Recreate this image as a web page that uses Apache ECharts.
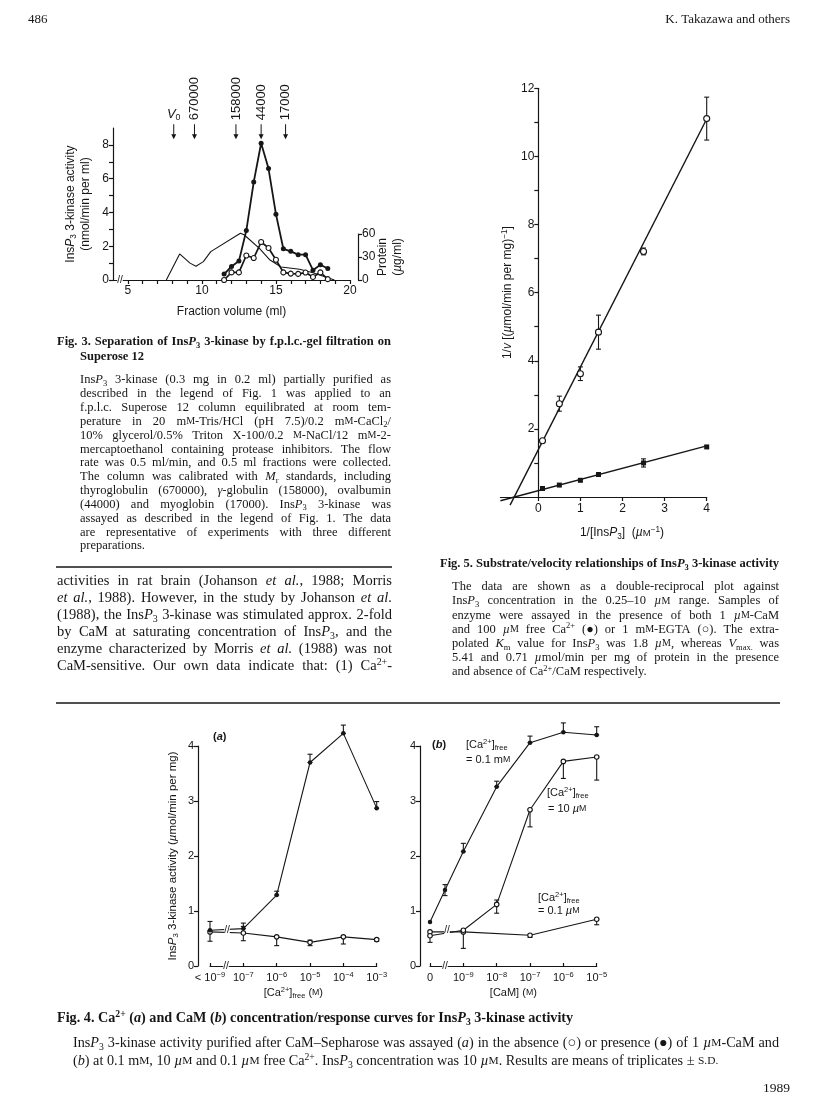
<!DOCTYPE html>
<html><head><meta charset="utf-8">
<script src="https://cdn.jsdelivr.net/npm/echarts@6/dist/echarts.min.js"></script>
<style>html,body{margin:0;padding:0;background:#fff}#c{width:816px;height:1103px}</style>
</head><body><div id="c"></div>
<script>
// ================= DATA =================
// Fig. 3 : gel filtration profile
const fig3Fraction = [11.5,12,12.5,13,13.5,14,14.5,15,15.5,16,16.5,17,17.5,18,18.5];
const fig3Filled   = [0.35,0.8,1.12,2.93,5.8,8.1,6.6,3.9,1.85,1.7,1.5,1.5,0.58,0.9,0.68];
const fig3Open     = [0,0.45,0.45,1.45,1.3,2.25,1.9,1.2,0.45,0.38,0.36,0.44,0.18,0.45,0.05];
const fig3ProteinX = [7.6,8.5,9.2,9.6,10.1,10.6,12.6,12.85,13.9,14.6,15.35,16.6,17.5,18.4,18.95];
const fig3Protein  = [0,34,22,18,24,37,61,59,41,26,17,14,9.5,3.5,0];
const fig3MarkerX  = [8.1,9.5,12.3,14.0,15.65];
const fig3MarkerLabels = ['V0','670000','158000','44000','17000'];
const fig3XTicks = [5,10,15,20];
const fig3YTicks = [0,2,4,6,8];
const fig3ProteinTicks = [0,30,60];

// Fig. 5 : double reciprocal plot
const fig5X          = [0.1,0.5,1.0,1.43,2.5,4.0];
const fig5Open       = [1.65,2.74,3.62,4.84,7.21,11.11];
const fig5OpenErr    = [0,0.22,0.2,0.5,0.1,0.63];
const fig5Filled     = [0.25,0.35,0.49,0.66,1.0,1.47];
const fig5FilledErr  = [0,0,0,0,0.12,0];
const fig5FitOpen    = [[-0.67,-0.24],[4.0,11.1]];
const fig5FitFilled  = [[-0.9,-0.11],[4.0,1.5]];
const fig5XTicks = [0,1,2,3,4];
const fig5YTicks = [2,4,6,8,10,12];

// Fig. 4(a) : Ca2+ dependence
const fig4aX          = [-8,-7,-6,-5,-4,-3];
const fig4aXTickLabels = ['< 10^−9^','10^−7^','10^−6^','10^−5^','10^−4^','10^−3^'];
const fig4aFilled     = [0.65,0.68,1.29,3.70,4.23,2.87];
const fig4aFilledErr  = [[-7,0.68,0.78],[-6,1.29,1.36],[-5,3.70,3.85],[-4,4.23,4.38],[-3,2.87,2.99]];
const fig4aOpen       = [0.62,0.60,0.53,0.43,0.53,0.48];
const fig4aOpenErr    = [[-8,0.45,0.81],[-7,0.46,0.72],[-6,0.37,0.53],[-5,0.37,0.47],[-4,0.40,0.55],[-3,0.45,0.50]];

// Fig. 4(b) : CaM dependence
const fig4bXTicks      = [-10,-9,-8,-7,-6,-5];
const fig4bXTickLabels = ['0','10^−9^','10^−8^','10^−7^','10^−6^','10^−5^'];
const fig4bMmX    = [-10,-9.55,-9,-8,-7,-6,-5];
const fig4bMm     = [0.8,1.38,2.08,3.26,4.06,4.25,4.2];
const fig4bMmErr  = [[-9.55,1.28,1.48],[-9,2.08,2.23],[-8,3.26,3.36],[-7,4.06,4.18],[-6,4.25,4.42],[-5,4.2,4.35]];
const fig4b10X    = [-10,-9,-8,-7,-6,-5];
const fig4b10     = [0.55,0.65,1.12,2.84,3.72,3.8];
const fig4b10Err  = [[-10,0.43,0.55],[-9,0.32,0.65],[-8,0.96,1.2],[-7,2.53,2.84],[-6,3.41,3.72],[-5,3.38,3.8]];
const fig4b01X    = [-10,-9,-7,-5];
const fig4b01     = [0.62,0.62,0.56,0.85];
const fig4b01Err  = [[-7,0.52,0.56],[-5,0.75,0.85]];
const fig4YTicks  = [0,1,2,3,4];

// ================= TEXT =================
const fig3Title = ['Fig. 3. Separation of Ins_P_~3~ 3-kinase by f.p.l.c.-gel filtration on'];
const fig3Title2 = ['Superose 12'];
const fig3Legend = [
 'Ins_P_~3~ 3-kinase (0.3 mg in 0.2 ml) partially purified as',
 'described in the legend of Fig. 1 was applied to an',
 'f.p.l.c. Superose 12 column equilibrated at room tem-',
 'perature in 20 m`M`-Tris/HCl (pH 7.5)/0.2 m`M`-CaCl~2~/',
 '10% glycerol/0.5% Triton X-100/0.2 `M`-NaCl/12 m`M`-2-',
 'mercaptoethanol containing protease inhibitors. The flow',
 'rate was 0.5 ml/min, and 0.5 ml fractions were collected.',
 'The column was calibrated with _M_~r~ standards, including',
 'thyroglobulin (670000), _γ_-globulin (158000), ovalbumin',
 '(44000) and myoglobin (17000). Ins_P_~3~ 3-kinase was',
 'assayed as described in the legend of Fig. 1. The data',
 'are representative of experiments with three different',
 'preparations.'];
const bodyText = [
 'activities in rat brain (Johanson _et al._, 1988; Morris',
 '_et al._, 1988). However, in the study by Johanson _et al._',
 '(1988), the Ins_P_~3~ 3-kinase was stimulated approx. 2-fold',
 'by CaM at saturating concentration of Ins_P_~3~, and the',
 'enzyme characterized by Morris _et al._ (1988) was not',
 'CaM-sensitive. Our own data indicate that: (1) Ca^2+^-'];
const fig5Title = ['Fig. 5. Substrate/velocity relationships of Ins_P_~3~ 3-kinase activity'];
const fig5Legend = [
 'The data are shown as a double-reciprocal plot against',
 'Ins_P_~3~ concentration in the 0.25–10 _µ_`M` range. Samples of',
 'enzyme were assayed in the presence of both 1 _µ_`M`-CaM',
 'and 100 _µ_`M` free Ca^2+^ (●) or 1 m`M`-EGTA (○). The extra-',
 'polated _K_~m~ value for Ins_P_~3~ was 1.8 _µ_`M`, whereas _V_~max.~ was',
 '5.41 and 0.71 _µ_mol/min per mg of protein in the presence',
 'and absence of Ca^2+^/CaM respectively.'];
const fig4Title = ['Fig. 4. Ca^2+^ (_a_) and CaM (_b_) concentration/response curves for Ins_P_~3~ 3-kinase activity'];
const fig4Legend = [
 'Ins_P_~3~ 3-kinase activity purified after CaM–Sepharose was assayed (_a_) in the absence (○) or presence (●) of 1 _µ_`M`-CaM and',
 '(_b_) at 0.1 m`M`, 10 _µ_`M` and 0.1 _µ_`M` free Ca^2+^. Ins_P_~3~ concentration was 10 _µ_`M`. Results are means of triplicates ± `S.D.`'];

// ================= HELPERS =================
const SANS = '"Liberation Sans", Arial, Helvetica, sans-serif';
const SERIF = '"Liberation Serif", "Times New Roman", serif';
const INK = '#161616';

function parseMarkup(s) {
  const toks = []; let buf = ''; const st = {i:0,b:0,p:0,c:0};
  const key = () => ((st.i?'i':'')+(st.b?'b':'')+(st.p?'p':'')+(st.c?'c':'')) || 'n';
  const flush = () => { if (buf) { toks.push({k:key(), t:buf}); buf=''; } };
  for (const ch of s) {
    if (ch==='_') { flush(); st.i^=1; }
    else if (ch==='~') { flush(); st.b^=1; }
    else if (ch==='^') { flush(); st.p^=1; }
    else if (ch==='`') { flush(); st.c^=1; }
    else buf += ch;
  }
  flush(); return toks;
}
function mk(s) { return parseMarkup(s).map(t => '{'+t.k+'|'+t.t+'}').join(''); }
function tokSpec(k, size) {
  const sub = k.includes('b'), sup = k.includes('p'), sc = k.includes('c');
  const fs = (sub||sup) ? Math.round(size*0.68*10)/10 : (sc ? Math.round(size*0.8*10)/10 : size);
  return {fs, italic: k.includes('i'), sub, sup};
}
const KEYS = ['n','i','b','ib','p','ip','c','ic','bc','pc','ibc','ipc'];
function richStyles(size, family, weight, colorProp) {
  const r = {}; const L = Math.round(size*1.25);
  for (const k of KEYS) {
    const sp = tokSpec(k, size);
    const o = {fontSize: sp.fs, fontFamily: family, fontWeight: weight, fontStyle: sp.italic ? 'italic' : 'normal',
               textBorderWidth: 0};
    o[colorProp] = INK;
    if (sp.sub) { o.verticalAlign = 'bottom'; o.lineHeight = Math.round(sp.fs*1.3); }
    else if (sp.sup) { o.verticalAlign = 'top'; o.lineHeight = Math.round(sp.fs*1.05); }
    else { o.lineHeight = L; }
    r[k] = o;
  }
  return r;
}
const mctx = document.createElement('canvas').getContext('2d');
function tokWidth(tok, size, family, weight) {
  const sp = tokSpec(tok.k, size);
  mctx.font = (sp.italic?'italic ':'') + weight + ' ' + sp.fs + 'px ' + family;
  return mctx.measureText(tok.t).width;
}
// lays out a block of lines word by word (justified like the printed page)
function textBlock(b) {
  const els = [];
  const R = richStyles(b.size, b.family, b.weight, 'fill');
  mctx.font = b.weight + ' ' + b.size + 'px ' + b.family;
  const spaceW = mctx.measureText(' ').width;
  b.lines.forEach((line, li) => {
    const y = b.y0 + li*(b.dy||0);
    let words = [[]];
    parseMarkup(line).forEach(tok => {
      tok.t.split(' ').forEach((p, j) => { if (j>0) words.push([]); if (p) words[words.length-1].push({k:tok.k, t:p}); });
    });
    words = words.filter(w => w.length);
    const widths = words.map(w => w.reduce((a,t) => a + tokWidth(t, b.size, b.family, b.weight), 0));
    const total = widths.reduce((a,c) => a+c, 0);
    const doJ = b.justify && words.length > 1 && (li < b.lines.length-1 || b.justifyLast);
    let gap = doJ ? (b.x1 - b.x0 - total)/(words.length-1) : spaceW;
    if (gap < spaceW*0.55) gap = spaceW*0.55;
    let x = b.x0;
    words.forEach((w, wi) => {
      els.push({type:'text', x: x, y: y, silent: true, z: 10,
        style: {text: w.map(t => '{'+t.k+'|'+t.t+'}').join(''), rich: R,
                align:'left', textAlign:'left', verticalAlign:'middle', textVerticalAlign:'middle',
                fill: INK, fontSize: b.size, fontFamily: b.family, fontWeight: b.weight}});
      x += widths[wi] + gap;
    });
  });
  return els;
}
function label(x, y, s, size, family, weight, align) {
  return {type:'text', x, y, silent:true, z:10,
    style:{text: mk(s), rich: richStyles(size, family, weight, 'fill'), align: align||'left', textAlign: align||'left',
           verticalAlign:'middle', textVerticalAlign:'middle', fill: INK, fontSize: size, fontFamily: family}};
}
function hline(x1, x2, y, w) {
  return {type:'line', silent:true, shape:{x1, y1:y, x2, y2:y}, style:{stroke: INK, lineWidth: w||1.2}};
}
function breakMark(x, y) {
  return {type:'text', x, y, silent:true, z:20,
    style:{text:'//', fontSize:10, fontFamily:SANS, fill:INK, align:'center', textAlign:'center',
           verticalAlign:'middle', textVerticalAlign:'middle', backgroundColor:'#fff', padding:[0,0]}};
}
const zip = (xs, ys) => xs.map((x,i) => [x, ys[i]]);
const errFrom = (xs, ys, es) => xs.map((x,i) => [x, ys[i]-es[i], ys[i]+es[i]]).filter((d,i) => es[i] > 0);

function errSeries(ai, data) {
  return {type:'custom', xAxisIndex: ai, yAxisIndex: ai, clip:false, silent:true, z:3,
    data, encode:{x:0, y:[1,2]},
    renderItem: (params, api) => {
      const x = api.value(0), lo = api.value(1), hi = api.value(2);
      const a = api.coord([x, lo]), b = api.coord([x, hi]); const w = 2.5;
      const st = {stroke: INK, lineWidth: 1.1};
      return {type:'group', children:[
        {type:'line', shape:{x1:a[0], y1:a[1], x2:b[0], y2:b[1]}, style: st},
        {type:'line', shape:{x1:a[0]-w, y1:a[1], x2:a[0]+w, y2:a[1]}, style: st},
        {type:'line', shape:{x1:b[0]-w, y1:b[1], x2:b[0]+w, y2:b[1]}, style: st}]};
    }};
}
const FILLED = {color: INK, borderWidth: 0, opacity: 1};
const OPEN = {color: '#fff', borderColor: INK, borderWidth: 1.1, opacity: 1};
function lineSeries(ai, data, opt) {
  return Object.assign({type:'line', xAxisIndex: ai, yAxisIndex: ai, data, clip:false, silent:true,
    symbol:'circle', symbolSize:4.5, showSymbol:true, z:4,
    lineStyle:{color: INK, width: 1.1}, itemStyle: FILLED, emphasis:{disabled:true}}, opt || {});
}

// ================= AXES =================
const axLineStyle = {color: INK, width: 1.2};
const tickStyle = {color: INK, width: 1.2};
function labStyle(size) { return {color: INK, fontSize: size, fontFamily: SANS, margin: 4}; }
function nameStyle(size) { return {color: INK, fontSize: size, fontFamily: SANS, rich: richStyles(size, SANS, 'normal', 'color')}; }
const range = (a, b) => { const r = []; for (let v = a; v <= b; v++) r.push(v); return r; };

const xAxes = [
  {gridIndex:0, type:'value', min:4, max:20,
   axisLine:{show:true, onZero:false, lineStyle:axLineStyle},
   axisTick:{show:true, length:4, customValues: range(5,20), lineStyle:tickStyle},
   axisLabel:Object.assign(labStyle(12), {customValues: fig3XTicks, margin:5}),
   splitLine:{show:false}, name:'Fraction volume (ml)', nameLocation:'middle', nameGap:26,
   nameTextStyle:nameStyle(12), nameMoveOverlap:false},
  {gridIndex:1, type:'value', min:4, max:20, show:false},
  {gridIndex:2, type:'value', min:-0.9, max:4,
   axisLine:{show:true, onZero:false, lineStyle:axLineStyle},
   axisTick:{show:true, length:4, customValues: fig5XTicks, lineStyle:tickStyle},
   axisLabel:Object.assign(labStyle(12), {customValues: fig5XTicks, margin:6}),
   splitLine:{show:false}},
  {gridIndex:3, type:'value', min:-8, max:-3, interval:1,
   axisLine:{show:true, onZero:false, lineStyle:axLineStyle},
   axisTick:{show:true, inside:true, length:3, lineStyle:tickStyle},
   axisLabel:Object.assign(labStyle(11), {margin:5, rich: richStyles(11, SANS, 'normal', 'color'),
     formatter: v => mk(fig4aXTickLabels[fig4aX.indexOf(Math.round(v))] || '')}),
   splitLine:{show:false}, name: mk('[Ca^2+^]~free~ (`M`)'), nameLocation:'middle', nameGap:20,
   nameTextStyle:nameStyle(11), nameMoveOverlap:false},
  {gridIndex:4, type:'value', min:-10, max:-5, interval:1,
   axisLine:{show:true, onZero:false, lineStyle:axLineStyle},
   axisTick:{show:true, inside:true, length:3, lineStyle:tickStyle},
   axisLabel:Object.assign(labStyle(11), {margin:5, rich: richStyles(11, SANS, 'normal', 'color'),
     formatter: v => mk(fig4bXTickLabels[fig4bXTicks.indexOf(Math.round(v))] || '')}),
   splitLine:{show:false}, name: mk('[CaM] (`M`)'), nameLocation:'middle', nameGap:20,
   nameTextStyle:nameStyle(11), nameMoveOverlap:false}
];
const yAxes = [
  {gridIndex:0, type:'value', min:0, max:9,
   axisLine:{show:true, onZero:false, lineStyle:axLineStyle},
   axisTick:{show:true, length:4, customValues: range(0,8), lineStyle:tickStyle},
   axisLabel:Object.assign(labStyle(12), {customValues: fig3YTicks}),
   splitLine:{show:false}, name: mk('Ins_P_~3~ 3-kinase activity\n(nmol/min per ml)'),
   nameLocation:'middle', nameRotate:90, nameGap:20, nameTextStyle:nameStyle(12), nameMoveOverlap:false},
  {gridIndex:1, type:'value', position:'right', offset:8, min:0, max:60, interval:30,
   axisLine:{show:true, onZero:false, lineStyle:axLineStyle},
   axisTick:{show:true, length:4, lineStyle:tickStyle},
   axisLabel:Object.assign(labStyle(12), {customValues: fig3ProteinTicks}),
   splitLine:{show:false}, name: mk('Protein\n(_µ_g/ml)'), nameLocation:'middle', nameRotate:90, nameGap:17,
   nameTextStyle:nameStyle(12), nameMoveOverlap:false},
  // y axis of Fig. 5 sits at x = 0 (37.9 px right of the grid's left edge)
  {gridIndex:2, type:'value', min:0, max:12, offset:-37.9,
   axisLine:{show:true, onZero:false, lineStyle:axLineStyle},
   axisTick:{show:true, length:4, customValues: range(1,12), lineStyle:tickStyle},
   axisLabel:Object.assign(labStyle(12), {customValues: fig5YTicks}),
   splitLine:{show:false}, name: mk('1/_v_ [(_µ_mol/min per mg)^−1^]'), nameLocation:'middle', nameRotate:90,
   nameGap:23, nameTextStyle:nameStyle(12), nameMoveOverlap:false},
  {gridIndex:3, type:'value', min:0, max:4, interval:1, offset:12,
   axisLine:{show:true, onZero:false, lineStyle:axLineStyle},
   axisTick:{show:true, length:4, lineStyle:tickStyle},
   axisLabel:Object.assign(labStyle(11), {customValues: fig4YTicks}),
   splitLine:{show:false}, name: mk('Ins_P_~3~ 3-kinase activity (_µ_mol/min per mg)'), nameLocation:'middle',
   nameRotate:90, nameGap:18, nameTextStyle:nameStyle(11.5), nameMoveOverlap:false},
  {gridIndex:4, type:'value', min:0, max:4, interval:1, offset:10,
   axisLine:{show:true, onZero:false, lineStyle:axLineStyle},
   axisTick:{show:true, length:4, lineStyle:tickStyle},
   axisLabel:Object.assign(labStyle(11), {customValues: fig4YTicks}),
   splitLine:{show:false}}
];

// ================= SERIES =================
const markerRich = richStyles(13, SANS, 'normal', 'color');
const series = [
  // Fig 3
  {type:'line', xAxisIndex:1, yAxisIndex:1, data: zip(fig3ProteinX, fig3Protein), symbol:'none', clip:false,
   silent:true, lineStyle:{color:INK, width:1.1}, z:2},
  lineSeries(0, zip(fig3Fraction, fig3Open), {itemStyle: OPEN, symbolSize:5, lineStyle:{color:INK, width:1.7}}),
  lineSeries(0, zip(fig3Fraction, fig3Filled), {symbolSize:5, lineStyle:{color:INK, width:1.8}}),
  {type:'scatter', xAxisIndex:0, yAxisIndex:0, clip:false, silent:true,
   symbol:'path://M2,0 L3,0 L3,10 L5,10 L2.5,15 L0,10 L2,10 Z', symbolSize:[5,15], symbolKeepAspect:false,
   itemStyle:{color:INK, opacity:1},
   data: fig3MarkerX.map((x, i) => i === 0
     ? {value:[x, 8.78], label:{rotate:0, align:'center', verticalAlign:'bottom', distance:2}}
     : {value:[x, 8.78]}),
   label:{show:true, position:'top', rotate:90, align:'left', verticalAlign:'middle', distance:4,
     color:INK, opacity:1, textBorderWidth:0, fontSize:12, fontFamily:SANS, rich: markerRich,
     formatter: p => p.dataIndex === 0 ? mk('_V_~0~') : '{n|' + fig3MarkerLabels[p.dataIndex] + '}'}},
  // Fig 5
  {type:'line', xAxisIndex:2, yAxisIndex:2, data: fig5FitOpen, symbol:'none', clip:false, silent:true,
   lineStyle:{color:INK, width:1.4}, z:2},
  {type:'line', xAxisIndex:2, yAxisIndex:2, data: fig5FitFilled, symbol:'none', clip:false, silent:true,
   lineStyle:{color:INK, width:1.4}, z:2},
  errSeries(2, errFrom(fig5X, fig5Open, fig5OpenErr)),
  errSeries(2, errFrom(fig5X, fig5Filled, fig5FilledErr)),
  {type:'scatter', xAxisIndex:2, yAxisIndex:2, data: zip(fig5X, fig5Open), symbol:'circle', symbolSize:6,
   itemStyle: OPEN, clip:false, silent:true, z:5},
  {type:'scatter', xAxisIndex:2, yAxisIndex:2, data: zip(fig5X, fig5Filled), symbol:'rect', symbolSize:5,
   itemStyle: FILLED, clip:false, silent:true, z:5},
  // Fig 4a
  errSeries(3, fig4aFilledErr),
  errSeries(3, fig4aOpenErr),
  lineSeries(3, zip(fig4aX, fig4aOpen), {itemStyle: OPEN}),
  lineSeries(3, zip(fig4aX, fig4aFilled)),
  // Fig 4b
  errSeries(4, fig4bMmErr),
  errSeries(4, fig4b10Err),
  errSeries(4, fig4b01Err),
  lineSeries(4, zip(fig4b01X, fig4b01), {itemStyle: OPEN}),
  lineSeries(4, zip(fig4b10X, fig4b10), {itemStyle: OPEN}),
  lineSeries(4, zip(fig4bMmX, fig4bMm))
];

// ================= PAGE TEXT / GRAPHICS =================
let els = [];
els.push(label(28, 20, '486', 13, SERIF, 'normal'));
els.push(label(790, 20, 'K. Takazawa and others', 13, SERIF, 'normal', 'right'));
els = els.concat(textBlock({x0:57, x1:391, y0:342, size:12.5, family:SERIF, weight:'bold', lines:fig3Title, justify:true, justifyLast:true}));
els = els.concat(textBlock({x0:80, x1:391, y0:357, size:12.5, family:SERIF, weight:'bold', lines:fig3Title2, justify:false}));
els = els.concat(textBlock({x0:80, x1:391, y0:380, dy:13.85, size:12.5, family:SERIF, weight:'normal', lines:fig3Legend, justify:true}));
els.push(hline(56, 392, 567, 1.3));
els = els.concat(textBlock({x0:57, x1:392, y0:581, dy:17, size:14.5, family:SERIF, weight:'normal', lines:bodyText, justify:true, justifyLast:true}));
els = els.concat(textBlock({x0:440, x1:778, y0:564, size:12.5, family:SERIF, weight:'bold', lines:fig5Title, justify:false}));
els = els.concat(textBlock({x0:452, x1:779, y0:587, dy:14.2, size:12.5, family:SERIF, weight:'normal', lines:fig5Legend, justify:true}));
els.push(hline(56, 780, 703, 1.3));
els = els.concat(textBlock({x0:57, x1:779, y0:1018, size:14.2, family:SERIF, weight:'bold', lines:fig4Title, justify:false}));
els = els.concat(textBlock({x0:73, x1:779, y0:1043, dy:18, size:14.2, family:SERIF, weight:'normal', lines:fig4Legend, justify:true}));
els.push(label(790, 1088, '1989', 13.5, SERIF, 'normal', 'right'));
// figure annotations
els.push(label(622, 533, '1/[Ins_P_~3~]  (_µ_`M`^−1^)', 12, SANS, 'normal', 'center'));
els.push(label(213, 737, '(_a_)', 11, SANS, 'bold'));
els.push(label(432, 745, '(_b_)', 11, SANS, 'bold'));
els.push(label(466, 745, '[Ca^2+^]~free~', 11, SANS, 'normal'));
els.push(label(466, 760, '= 0.1 m`M`', 11, SANS, 'normal'));
els.push(label(547, 793, '[Ca^2+^]~free~', 11, SANS, 'normal'));
els.push(label(548, 809, '= 10 _µ_`M`', 11, SANS, 'normal'));
els.push(label(538, 898, '[Ca^2+^]~free~', 11, SANS, 'normal'));
els.push(label(538, 911, '= 0.1 _µ_`M`', 11, SANS, 'normal'));
// axis / line breaks
els.push(breakMark(120, 280));
els.push(breakMark(226, 966));
els.push(breakMark(227, 930));
els.push(breakMark(445, 966));
els.push(breakMark(447, 930));

const option = {
  animation: false,
  backgroundColor: '#fff',
  grid: [
    {left:113, top:128.1, width:237, height:151.9},
    {left:113, top:234, width:237, height:46},
    {left:500.4, top:88.3, width:206.3, height:408.7},
    {left:210, top:746, width:166.7, height:220},
    {left:430, top:746, width:166.7, height:220}
  ].map(g => Object.assign({show:false, containLabel:false, outerBoundsMode:'none'}, g)),
  xAxis: xAxes,
  yAxis: yAxes,
  series: series,
  graphic: {elements: els}
};
const chart = echarts.init(document.getElementById('c'), null, {renderer:'canvas', width:816, height:1103});
chart.setOption(option);
</script></body></html>
